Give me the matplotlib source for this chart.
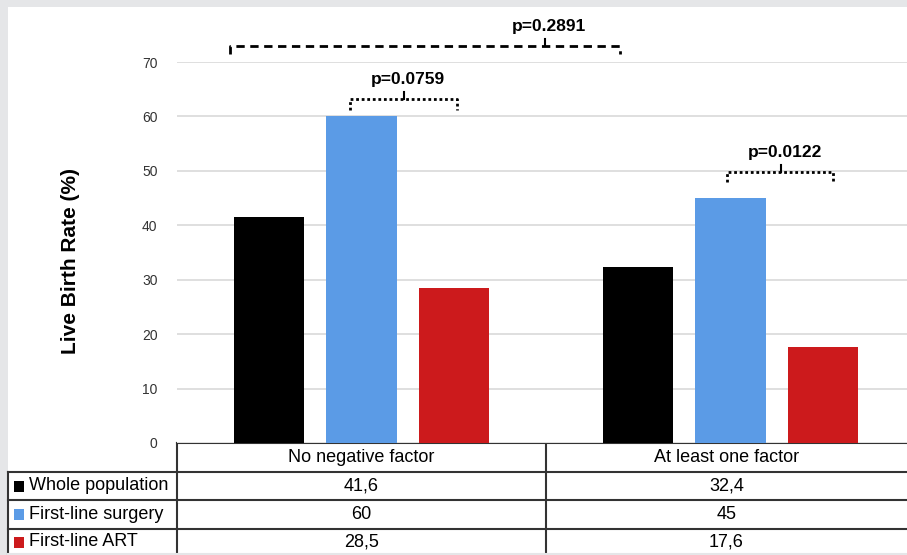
import numpy as np
import matplotlib.pyplot as plt
from matplotlib.patches import Rectangle

categories = ['No negative factor', 'At least one factor']
series_names = ['Whole population', 'First-line surgery', 'First-line ART']
whole_population = [41.6, 32.4]
first_line_surgery = [60, 45]
first_line_art = [28.5, 17.6]
series_colors = ['#000000', '#5b9be6', '#cc1a1c']
y_ticks = [0, 10, 20, 30, 40, 50, 60, 70]
value_labels = [['41,6', '32,4'], ['60', '45'], ['28,5', '17,6']]

# brackets: (x_left, x_right, x_mid, y_line, drop, label, style)
brackets = [
    (-0.356, 0.70, 0.497, 72.9, 1.5, 'p=0.2891', (0, (3, 2))),
    (-0.031, 0.259, 0.115, 63.2, 2.0, 'p=0.0759', (0, (1, 1))),
    (0.99, 1.278, 1.137, 49.8, 1.9, 'p=0.0122', (0, (1, 1))),
]

plt.rcParams['font.family'] = ['Liberation Sans', 'DejaVu Sans']

W, H = 907, 555
fig = plt.figure(figsize=(W / 100, H / 100), dpi=100)

# background table/frame layer in pixel coordinates
bg = fig.add_axes([0, 0, 1, 1])
bg.set_xlim(0, W)
bg.set_ylim(H, 0)
bg.axis('off')
bg.add_patch(Rectangle((0, 0), W, 7, color='#e5e6e8', lw=0))
bg.add_patch(Rectangle((0, 0), 8, H, color='#e5e6e8', lw=0))

ax = fig.add_axes([177 / W, (H - 443) / H, 738 / W, (443 - 62) / H])
x = np.arange(len(categories))
width = 0.19
step = 0.25
series = [whole_population, first_line_surgery, first_line_art]
for i, (vals, c) in enumerate(zip(series, series_colors)):
    ax.bar(x + (i - 1) * step, vals, width=width, color=c, zorder=3)

ax.set_xlim(-0.5, 1.5)
ax.set_ylim(0, 70)
ax.set_yticks(y_ticks)
ax.set_xticks([])
ax.tick_params(axis='y', length=0, pad=14, labelsize=10, labelcolor='#333333')
ax.grid(axis='y', color='#d9d9d9', lw=1.2, zorder=0)
for s in ax.spines.values():
    s.set_visible(False)

for xl, xr, xm, yl, drop, label, ls in brackets:
    ax.plot([xl, xl, xr, xr], [yl - drop, yl, yl, yl - drop], color='black',
            lw=2, ls=ls, clip_on=False, zorder=4)
    ax.plot([xm, xm], [yl, yl + 1.3], color='black', lw=1.5, clip_on=False, zorder=4)
    ax.text(xm + 0.012, yl + 3.6, label, ha='center', va='center',
            fontsize=12.5, fontweight='bold', clip_on=False)

fig.text(70 / W, 0.53, 'Live Birth Rate (%)', rotation=90, ha='center', va='center',
         fontsize=15, fontweight='bold')

# data table drawn under the axes
lc = '#333333'
row_y = [443, 472, 500, 529, 555]
col_x = [8, 177, 546, 907]
bg.plot([177, W], [443, 443], color=lc, lw=1.5)
for yy in row_y[1:4]:
    bg.plot([8, W], [yy, yy], color=lc, lw=1.5)
bg.plot([8, 8], [472, 555], color=lc, lw=1.5)
bg.plot([177, 177], [443, 555], color=lc, lw=1.5)
bg.plot([546, 546], [443, 555], color=lc, lw=1.5)
bg.plot([8, W], [554, 554], color='#e5e6e8', lw=1.5)

for j, cat in enumerate(categories):
    cx = (col_x[j + 1] + col_x[j + 2]) / 2
    bg.text(cx, (row_y[0] + row_y[1]) / 2, cat, ha='center', va='center', fontsize=13)
for i, name in enumerate(series_names):
    cy = (row_y[i + 1] + row_y[i + 2]) / 2
    bg.add_patch(Rectangle((14, cy - 5.5), 10, 11, color=series_colors[i], lw=0))
    bg.text(29, cy, name, ha='left', va='center', fontsize=13)
    for j in range(len(categories)):
        cx = (col_x[j + 1] + col_x[j + 2]) / 2
        bg.text(cx, cy, value_labels[i][j], ha='center', va='center', fontsize=13)

fig.savefig('out.png', dpi=100)
